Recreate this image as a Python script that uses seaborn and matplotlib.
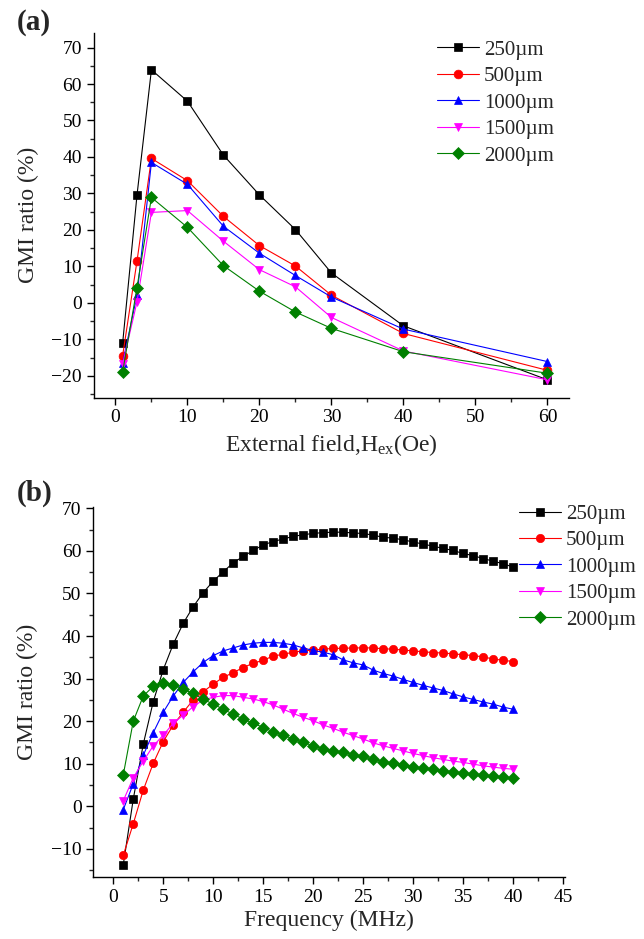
import numpy as np
import pandas as pd
import matplotlib
matplotlib.use("Agg")
import matplotlib.pyplot as plt
from matplotlib.ticker import MultipleLocator
import seaborn as sns

# %% data
labels = ['250µm', '500µm', '1000µm', '1500µm', '2000µm']
colors = ['#000000', '#FF0000', '#0000FF', '#FF00FF', '#008000']
markers = ['s', 'o', '^', 'v', 'D']

# (a) GMI ratio vs external field
field = [1, 3, 5, 10, 15, 20, 25, 30, 40, 60]
a_250 = [-11.1, 29.6, 63.9, 55.3, 40.5, 29.6, 20.1, 8.2, -6.3, -21.1]
a_500 = [-14.5, 11.5, 39.6, 33.5, 23.7, 15.7, 10.1, 2.1, -8.4, -18.5]
a_1000 = [-16.5, 2.1, 38.5, 32.5, 21.0, 13.6, 7.5, 1.6, -7.2, -16.1]
a_1500 = [-16.8, 0.3, 24.8, 25.3, 16.9, 9.1, 4.4, -4.0, -13.2, -21.1]
a_2000 = [-19.0, 4.2, 28.9, 20.7, 10.2, 3.2, -2.5, -7.0, -13.4, -19.3]

# (b) GMI ratio vs frequency
freq = list(range(1, 41))
b_250 = [-13.7, 1.7, 14.6, 24.6, 32.1, 38.1, 43.0, 46.9, 50.2, 52.9,
         55.1, 57.2, 58.7, 60.1, 61.4, 62.2, 62.8, 63.4, 63.8, 64.1,
         64.3, 64.4, 64.4, 64.2, 64.1, 63.7, 63.2, 63.0, 62.6, 62.1,
         61.6, 61.1, 60.6, 60.1, 59.4, 58.9, 58.2, 57.6, 57.0, 56.2]
b_500 = [-11.5, -4.1, 3.8, 10.1, 15.2, 19.1, 22.1, 25.0, 26.9, 28.7,
         30.3, 31.4, 32.6, 33.6, 34.3, 35.3, 35.7, 36.2, 36.5, 36.7,
         36.9, 37.1, 37.1, 37.2, 37.2, 37.2, 37.0, 36.9, 36.7, 36.5,
         36.3, 36.1, 36.0, 35.8, 35.6, 35.4, 35.1, 34.6, 34.3, 34.0]
b_1000 = [-0.8, 5.3, 12.0, 17.3, 22.1, 25.9, 29.1, 31.6, 33.8, 35.4,
          36.5, 37.2, 37.9, 38.3, 38.5, 38.5, 38.3, 37.9, 37.2, 36.6,
          36.2, 35.6, 34.4, 33.7, 33.2, 32.0, 31.2, 30.6, 29.8, 29.1,
          28.4, 27.8, 27.2, 26.4, 25.7, 25.1, 24.5, 24.0, 23.3, 22.8]
b_1500 = [1.3, 6.7, 10.6, 14.2, 16.7, 19.5, 21.4, 23.4, 25.0, 25.6,
          26.0, 26.0, 25.6, 25.2, 24.6, 23.8, 22.8, 21.8, 20.9, 20.1,
          19.1, 18.3, 17.4, 16.6, 15.8, 14.9, 14.2, 13.6, 13.0, 12.4,
          11.9, 11.4, 11.0, 10.6, 10.3, 9.9, 9.5, 9.2, 8.9, 8.7]
b_2000 = [7.4, 20.0, 25.9, 28.2, 29.0, 28.5, 27.5, 26.5, 25.1, 24.0,
          22.8, 21.6, 20.5, 19.5, 18.5, 17.5, 16.7, 15.8, 15.0, 14.2,
          13.5, 12.9, 12.7, 12.1, 11.7, 11.0, 10.5, 10.1, 9.7, 9.3,
          8.9, 8.7, 8.3, 8.1, 7.8, 7.5, 7.3, 7.1, 6.8, 6.6]

# %% style
sns.set_style("ticks")
plt.rcParams['font.family'] = ['Liberation Serif', 'DejaVu Serif']
plt.rcParams['mathtext.fontset'] = 'custom'
plt.rcParams['mathtext.rm'] = 'Liberation Serif'
plt.rcParams['mathtext.it'] = 'Liberation Serif:italic'
plt.rcParams['xtick.direction'] = 'out'
plt.rcParams['ytick.direction'] = 'out'

fig = plt.figure(figsize=(6.44, 9.39), dpi=100)
ax_a = fig.add_axes([0.1457, 0.5765, 0.7378, 0.3884])
ax_b = fig.add_axes([0.1449, 0.0657, 0.7324, 0.3943])


def draw(ax, x, series, ms):
    for y, lab, c, m in zip(series, labels, colors, markers):
        df = pd.DataFrame({'x': x, 'y': y})
        sns.lineplot(data=df, x='x', y='y', ax=ax, color=c, marker=m,
                     markersize=ms, markeredgecolor=c, markeredgewidth=0.5,
                     linewidth=0.8, label=lab)


def style(ax):
    sns.despine(ax=ax)
    for s in ['left', 'bottom']:
        ax.spines[s].set_linewidth(1.0)
        ax.spines[s].set_color('black')
    ax.tick_params(which='major', length=5, width=1.0, labelsize=14, colors='black')
    ax.tick_params(which='minor', length=3, width=1.0)
    ax.grid(False)


def legend(ax, anchor):
    ax.legend(loc='upper left', bbox_to_anchor=anchor, frameon=False,
              fontsize=15, handlelength=2.0, handletextpad=0.25,
              labelspacing=0.33, borderaxespad=0)


# (a)
draw(ax_a, field, [a_250, a_500, a_1000, a_1500, a_2000], 6.3)
style(ax_a)
ax_a.set_xlim(-3, 63)
ax_a.set_ylim(-26, 74)
ax_a.xaxis.set_major_locator(MultipleLocator(10))
ax_a.xaxis.set_minor_locator(MultipleLocator(5))
ax_a.yaxis.set_major_locator(MultipleLocator(10))
ax_a.yaxis.set_minor_locator(MultipleLocator(5))
ax_a.set_xlabel('External field,H$_\\mathregular{ex}$(Oe)', fontsize=17, labelpad=4)
ax_a.set_ylabel('GMI ratio (%)', fontsize=17, labelpad=9)
legend(ax_a, (0.705, 1.003))

# (b)
draw(ax_b, freq, [b_250, b_500, b_1000, b_1500, b_2000], 6)
style(ax_b)
ax_b.set_xlim(-2, 45.2)
ax_b.set_ylim(-16.7, 70.3)
ax_b.xaxis.set_major_locator(MultipleLocator(5))
ax_b.xaxis.set_minor_locator(MultipleLocator(2.5))
ax_b.yaxis.set_major_locator(MultipleLocator(10))
ax_b.yaxis.set_minor_locator(MultipleLocator(5))
ax_b.set_xlabel('Frequency (MHz)', fontsize=17, labelpad=3)
ax_b.set_ylabel('GMI ratio (%)', fontsize=17, labelpad=9)
legend(ax_b, (0.885, 1.03))

fig.text(0.026, 0.99, '(a)', fontsize=21, fontweight='bold', va='top')
fig.text(0.026, 0.489, '(b)', fontsize=21, fontweight='bold', va='top')

fig.savefig('out.png', dpi=100)
